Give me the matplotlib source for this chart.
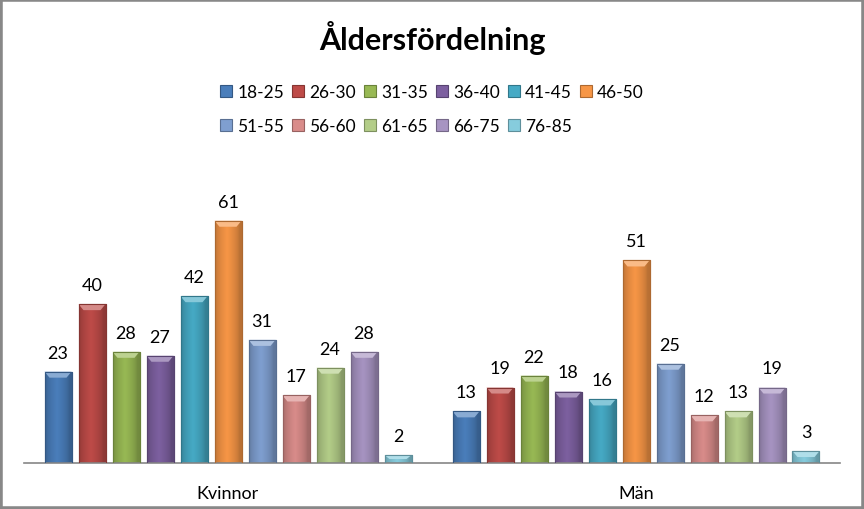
import matplotlib.pyplot as plt
import matplotlib.colors as mcolors
from matplotlib.patches import Polygon, Rectangle
import numpy as np

plt.rcParams['font.family'] = ['Lato', 'DejaVu Sans']

# Data
categories = ['Kvinnor', 'Män']
age_groups = ['18-25', '26-30', '31-35', '36-40', '41-45', '46-50',
              '51-55', '56-60', '61-65', '66-75', '76-85']
kvinnor = [23, 40, 28, 27, 42, 61, 31, 17, 24, 28, 2]
man = [13, 19, 22, 18, 16, 51, 25, 12, 13, 19, 3]
colors = ['#4A7EBB', '#BE4B48', '#98B954', '#7D60A0', '#46AAC5', '#F79646',
          '#7F9FD0', '#D98C8A', '#B3CD88', '#A794C2', '#86CCDD']

values = np.array([kvinnor, man]).T  # one row per age group

fig = plt.figure(figsize=(8.64, 5.10), dpi=100)
ax = fig.add_axes([24/864, 46/510, 816/864, 278/510])

pitch = 34/408
width = 27/408
x = np.arange(len(categories))

def shade(c, f):
    r, g, b = mcolors.to_rgb(c)
    if f < 0:
        return (r*(1+f), g*(1+f), b*(1+f))
    return (r+(1-r)*f, g+(1-g)*f, b+(1-b)*f)

ax.set_xlim(-0.5, 1.5)
ax.set_ylim(0, 70)

# pixel -> data scales for bevel sizes
px_x = 2.0/816
px_y = 70.0/278

# horizontal profile for the bevel gradient
prof = np.linspace(0, 1, 60)
light = np.clip(1 - np.abs(prof - 0.45)*2.2, 0, 1)**0.6

for i, (lab, col) in enumerate(zip(age_groups, colors)):
    pos = x + (i - 5)*pitch
    bars = ax.bar(pos, values[i], width, color=col, edgecolor=shade(col, -0.3),
                  linewidth=0.8, label=lab, zorder=2)
    for b, v in zip(bars, values[i]):
        bx, bw, bh = b.get_x(), b.get_width(), b.get_height()
        base = np.array(mcolors.to_rgb(col))
        dark = np.array(shade(col, -0.25))
        grad = dark[None, :] + (base - dark)[None, :]*light[:, None]
        img = ax.imshow(grad[None, :, :], extent=[bx, bx+bw, 0, bh],
                        aspect='auto', zorder=2.5, interpolation='bicubic')
        img.set_clip_path(b)
        cap = min(6*px_y, bh*0.5)
        ax.add_patch(Polygon([(bx, bh), (bx+bw, bh), (bx+bw-5*px_x, bh-cap),
                              (bx+5*px_x, bh-cap)], closed=True,
                             facecolor=shade(col, 0.35), edgecolor='none', zorder=3))
        ax.add_patch(Rectangle((bx, 0), bw, bh, facecolor='none',
                               edgecolor=shade(col, -0.3), linewidth=0.8, zorder=3.2))
        ax.annotate(str(v), (b.get_x()+bw/2, bh), xytext=(0, 8),
                    textcoords='offset points', ha='center', va='bottom',
                    fontsize=13, color='black')

for s in ['top', 'right', 'left']:
    ax.spines[s].set_visible(False)
ax.spines['bottom'].set_color('#868686')
ax.spines['bottom'].set_linewidth(1.2)
ax.set_yticks([])
ax.set_xticks(x)
ax.set_xticklabels(categories, fontsize=13)
ax.tick_params(axis='x', length=0, pad=16)

fig.text(0.5, 1 - 38/510, 'Åldersfördelning', ha='center', va='center',
         fontsize=22, fontweight='bold')

handles, labels = ax.get_legend_handles_labels()
# column-major order so that rows read 18-25..46-50 then 51-55..76-85
order = []
for c in range(6):
    order.append(c)
    if c + 6 < len(handles):
        order.append(c + 6)
leg = fig.legend([handles[k] for k in order], [labels[k] for k in order],
                 ncol=6, loc='center', bbox_to_anchor=(0.5, 1 - 110/510),
                 frameon=False, fontsize=12.5, handlelength=0.7, handleheight=0.7,
                 handletextpad=0.3, columnspacing=0.45, labelspacing=1.05)

fig.patches.append(Rectangle((0, 0), 1, 1, transform=fig.transFigure,
                             fill=False, edgecolor='#888888', linewidth=4))

fig.savefig('out.png', dpi=100)
